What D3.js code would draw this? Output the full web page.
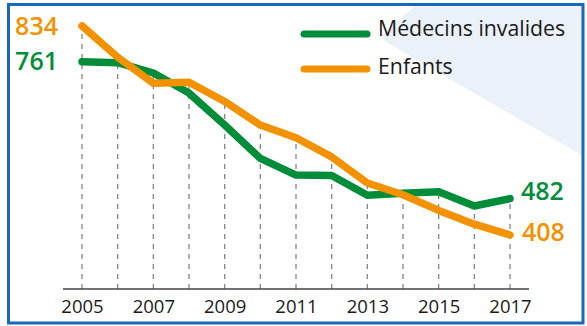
<!DOCTYPE html>
<html>
<head>
<meta charset="utf-8">
<script src="https://cdn.jsdelivr.net/npm/d3@7"></script>
<style>
  html, body { margin: 0; padding: 0; background: #fff; }
  svg { display: block; font-family: "Open Sans", "Noto Sans", sans-serif; }
</style>
</head>
<body>
<svg id="chart" width="587" height="326"></svg>
<script>
// Yearly counts, 2005–2017
const years = [2005, 2006, 2007, 2008, 2009, 2010, 2011, 2012, 2013, 2014, 2015, 2016, 2017];
const medecinsInvalides = [761, 759, 738, 697, 632, 564, 530, 529, 489, 493, 496, 467, 482];
const enfants = [834, 770, 717, 719, 680, 632, 606, 567, 514, 490, 458, 430, 408];
const tickYears = [2005, 2007, 2009, 2011, 2013, 2015, 2017];
const seriesNames = ["Médecins invalides", "Enfants"];
const seriesColors = ["#008d3a", "#f39200"];

const svg = d3.select("#chart");

const x = d3.scaleLinear().domain([2005, 2017]).range([82, 510]);
const y = d3.scaleLinear().domain([300, 850]).range([288, 18]);
const baseY = 289;

// Pale background wedge in the upper right corner
svg.append("path")
  .attr("d", "M416,5 L389,28 Q376,38 391,45 L583,156 L583,5 Z")
  .attr("fill", "#ebf1f9");

// Dashed year guides from the baseline up to the higher of the two series
svg.append("g").selectAll("line")
  .data(years)
  .join("line")
  .attr("x1", d => x(d)).attr("x2", d => x(d))
  .attr("y1", baseY)
  .attr("y2", (d, i) => y(Math.max(medecinsInvalides[i], enfants[i])))
  .attr("stroke", "#858585")
  .attr("stroke-width", 1.3)
  .attr("stroke-dasharray", "5,5");

// Baseline
svg.append("line")
  .attr("x1", x(2005) - 19).attr("x2", x(2017) + 19)
  .attr("y1", baseY).attr("y2", baseY)
  .attr("stroke", "#444").attr("stroke-width", 1.3);

// Year labels
const axis = d3.axisBottom(x)
  .tickValues(tickYears)
  .tickFormat(d3.format("d"))
  .tickSize(0)
  .tickPadding(11);
const gx = svg.append("g").attr("transform", `translate(0,${baseY})`).call(axis);
gx.select(".domain").remove();
gx.selectAll("text")
  .attr("font-family", "'Open Sans', 'Noto Sans', sans-serif")
  .attr("font-size", 18.5)
  .attr("fill", "#1a1a1a");

// Series lines (orange drawn last, above green)
const line = d3.line().x((d, i) => x(years[i])).y(d => y(d));
[medecinsInvalides, enfants].forEach((vals, k) => {
  svg.append("path")
    .datum(vals)
    .attr("d", line)
    .attr("fill", "none")
    .attr("stroke", seriesColors[k])
    .attr("stroke-width", 7.5)
    .attr("stroke-linejoin", "round")
    .attr("stroke-linecap", "round");
});

// Start and end value labels
const last = years.length - 1;
const labels = [
  { v: medecinsInvalides[0], xp: x(years[0]) - 24, yp: y(medecinsInvalides[0]) - 1, anchor: "end", c: seriesColors[0] },
  { v: enfants[0], xp: x(years[0]) - 24, yp: y(enfants[0]), anchor: "end", c: seriesColors[1] },
  { v: medecinsInvalides[last], xp: x(years[last]) + 11, yp: y(medecinsInvalides[last]) - 8, anchor: "start", c: seriesColors[0] },
  { v: enfants[last], xp: x(years[last]) + 12, yp: y(enfants[last]) - 3, anchor: "start", c: seriesColors[1] }
];
svg.append("g").selectAll("text")
  .data(labels)
  .join("text")
  .attr("x", d => d.xp)
  .attr("y", d => d.yp)
  .attr("dy", "0.36em")
  .attr("text-anchor", d => d.anchor)
  .attr("font-size", 25)
  .attr("font-weight", 600)
  .attr("fill", d => d.c)
  .text(d => d.v);

// Legend
const legend = svg.append("g");
const legendRows = [34, 69];
seriesNames.forEach((name, k) => {
  legend.append("line")
    .attr("x1", 304).attr("x2", 367)
    .attr("y1", legendRows[k]).attr("y2", legendRows[k])
    .attr("stroke", seriesColors[k])
    .attr("stroke-width", 7)
    .attr("stroke-linecap", "round");
  legend.append("text")
    .attr("x", 378)
    .attr("y", legendRows[k] + (k === 0 ? 2 : 5))
    .attr("font-size", 21.3)
    .attr("fill", "#1a1a1a")
    .text(name);
});

// Frame
svg.append("rect")
  .attr("x", 8.5).attr("y", 4.5)
  .attr("width", 574.5).attr("height", 318.5)
  .attr("fill", "none")
  .attr("stroke", "#1769bd")
  .attr("stroke-width", 3);
</script>
</body>
</html>
